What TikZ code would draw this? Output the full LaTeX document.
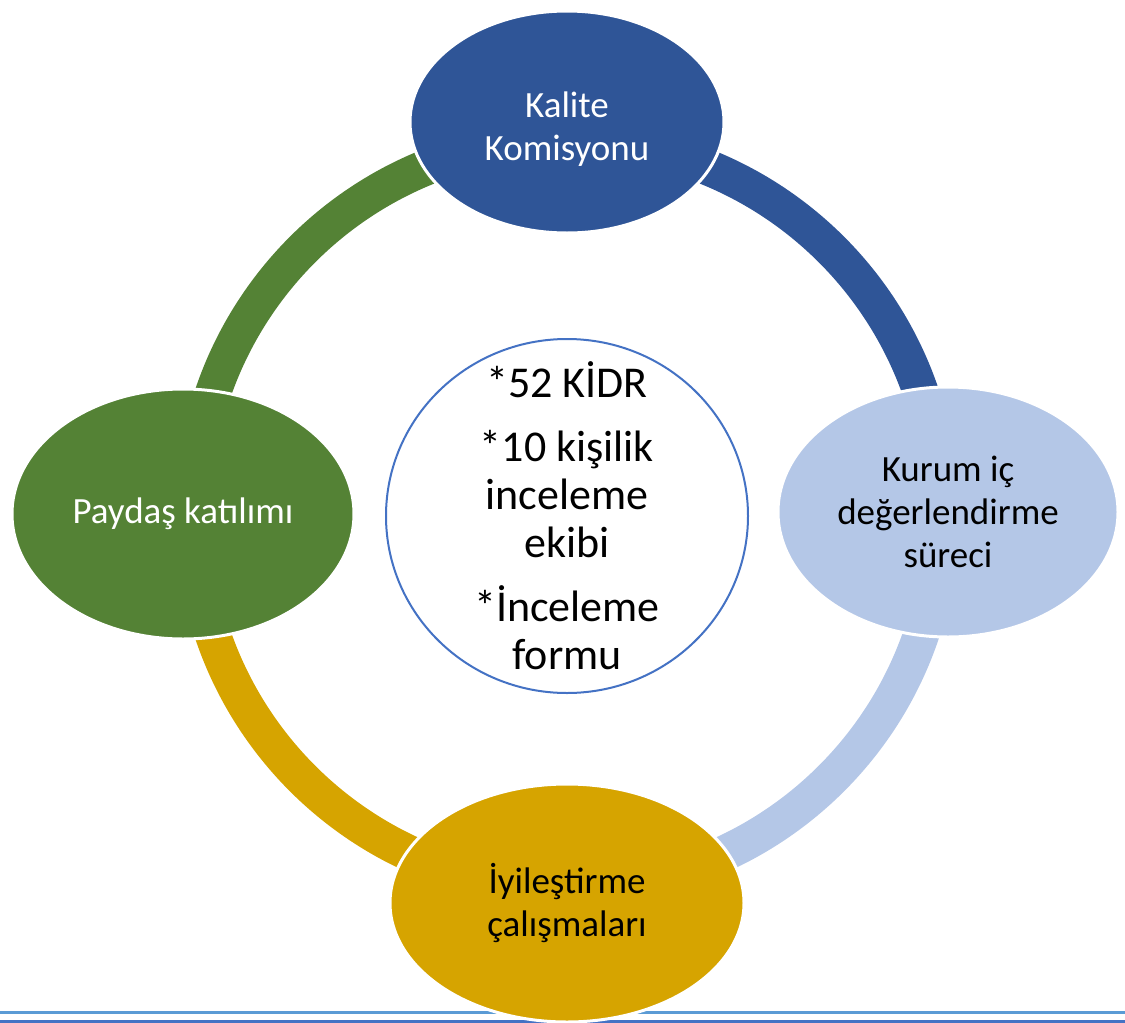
\documentclass[tikz,border=0pt]{standalone}
\usepackage{fontspec}
\setmainfont{Carlito}
\usetikzlibrary{shapes.geometric}

\definecolor{kaliteblue}{HTML}{2F5597}
\definecolor{kurumblue}{HTML}{B4C7E7}
\definecolor{iyigold}{HTML}{D6A400}
\definecolor{paygreen}{HTML}{548235}
\definecolor{hubline}{HTML}{4472C4}
\definecolor{footline}{HTML}{5B9BD5}

\begin{document}
\begin{tikzpicture}[x = 1pt, y = 1pt,
  stage/.style = {shape = ellipse, draw = white, line width = 3pt, inner sep = 0pt,
    align = center, font = \fontsize{37}{43}\selectfont},
  ring/.style = {line width = 36pt}]
\useasboundingbox (0, 0) rectangle (1125, -1023);

\coordinate (hub) at (567, -514);

% ring segments
\path [draw, ring, kaliteblue] (hub) ++(90:374pt) arc [start angle = 90, end angle = 0, radius = 374pt];
\path [draw, ring, kurumblue] (hub) ++(0:374pt) arc [start angle = 0, end angle = -90, radius = 374pt];
\path [draw, ring, iyigold] (hub) ++(-90:374pt) arc [start angle = -90, end angle = -180, radius = 374pt];
\path [draw, ring, paygreen] (hub) ++(180:374pt) arc [start angle = 180, end angle = 90, radius = 374pt];

% page rules
\coordinate (rule0w) at (0, -1012.5);
\coordinate (rule0e) at (1125, -1012.5);
\coordinate (rule1w) at (0, -1021.5);
\coordinate (rule1e) at (1125, -1021.5);
\path [draw, footline, line width = 3pt] (rule0w) -- (rule0e);
\path [draw, hubline, line width = 3pt] (rule1w) -- (rule1e);

\node [stage, fill = kaliteblue, text = white, minimum width = 314pt, minimum height = 222pt] (kalite) at (567, -122) {\rule{0pt}{40pt}Kalite\\Komisyonu};
\node [stage, fill = kurumblue, text = black, minimum width = 340pt, minimum height = 250pt] (kurum) at (948, -512) {Kurum iç\\değerlendirme\\süreci};
\node [stage, fill = iyigold, text = black, minimum width = 354pt, minimum height = 238pt] (iyi) at (567, -903) {İyileştirme\\çalışmaları};
\node [stage, fill = paygreen, text = white, minimum width = 342pt, minimum height = 250pt] (paydas) at (183, -514) {Paydaş katılımı};

\node [shape = ellipse, draw = hubline, line width = 2pt, fill = white, inner xsep = 0pt, inner ysep = -60pt,
  minimum width = 362pt, minimum height = 354pt, align = center,
  font = \fontsize{44}{48}\selectfont] (kidr) at (567, -516)
  {*52 KİDR\\[16pt]*10 kişilik\\inceleme\\ekibi\\[16pt]*İnceleme\\formu};

\end{tikzpicture}
\end{document}
